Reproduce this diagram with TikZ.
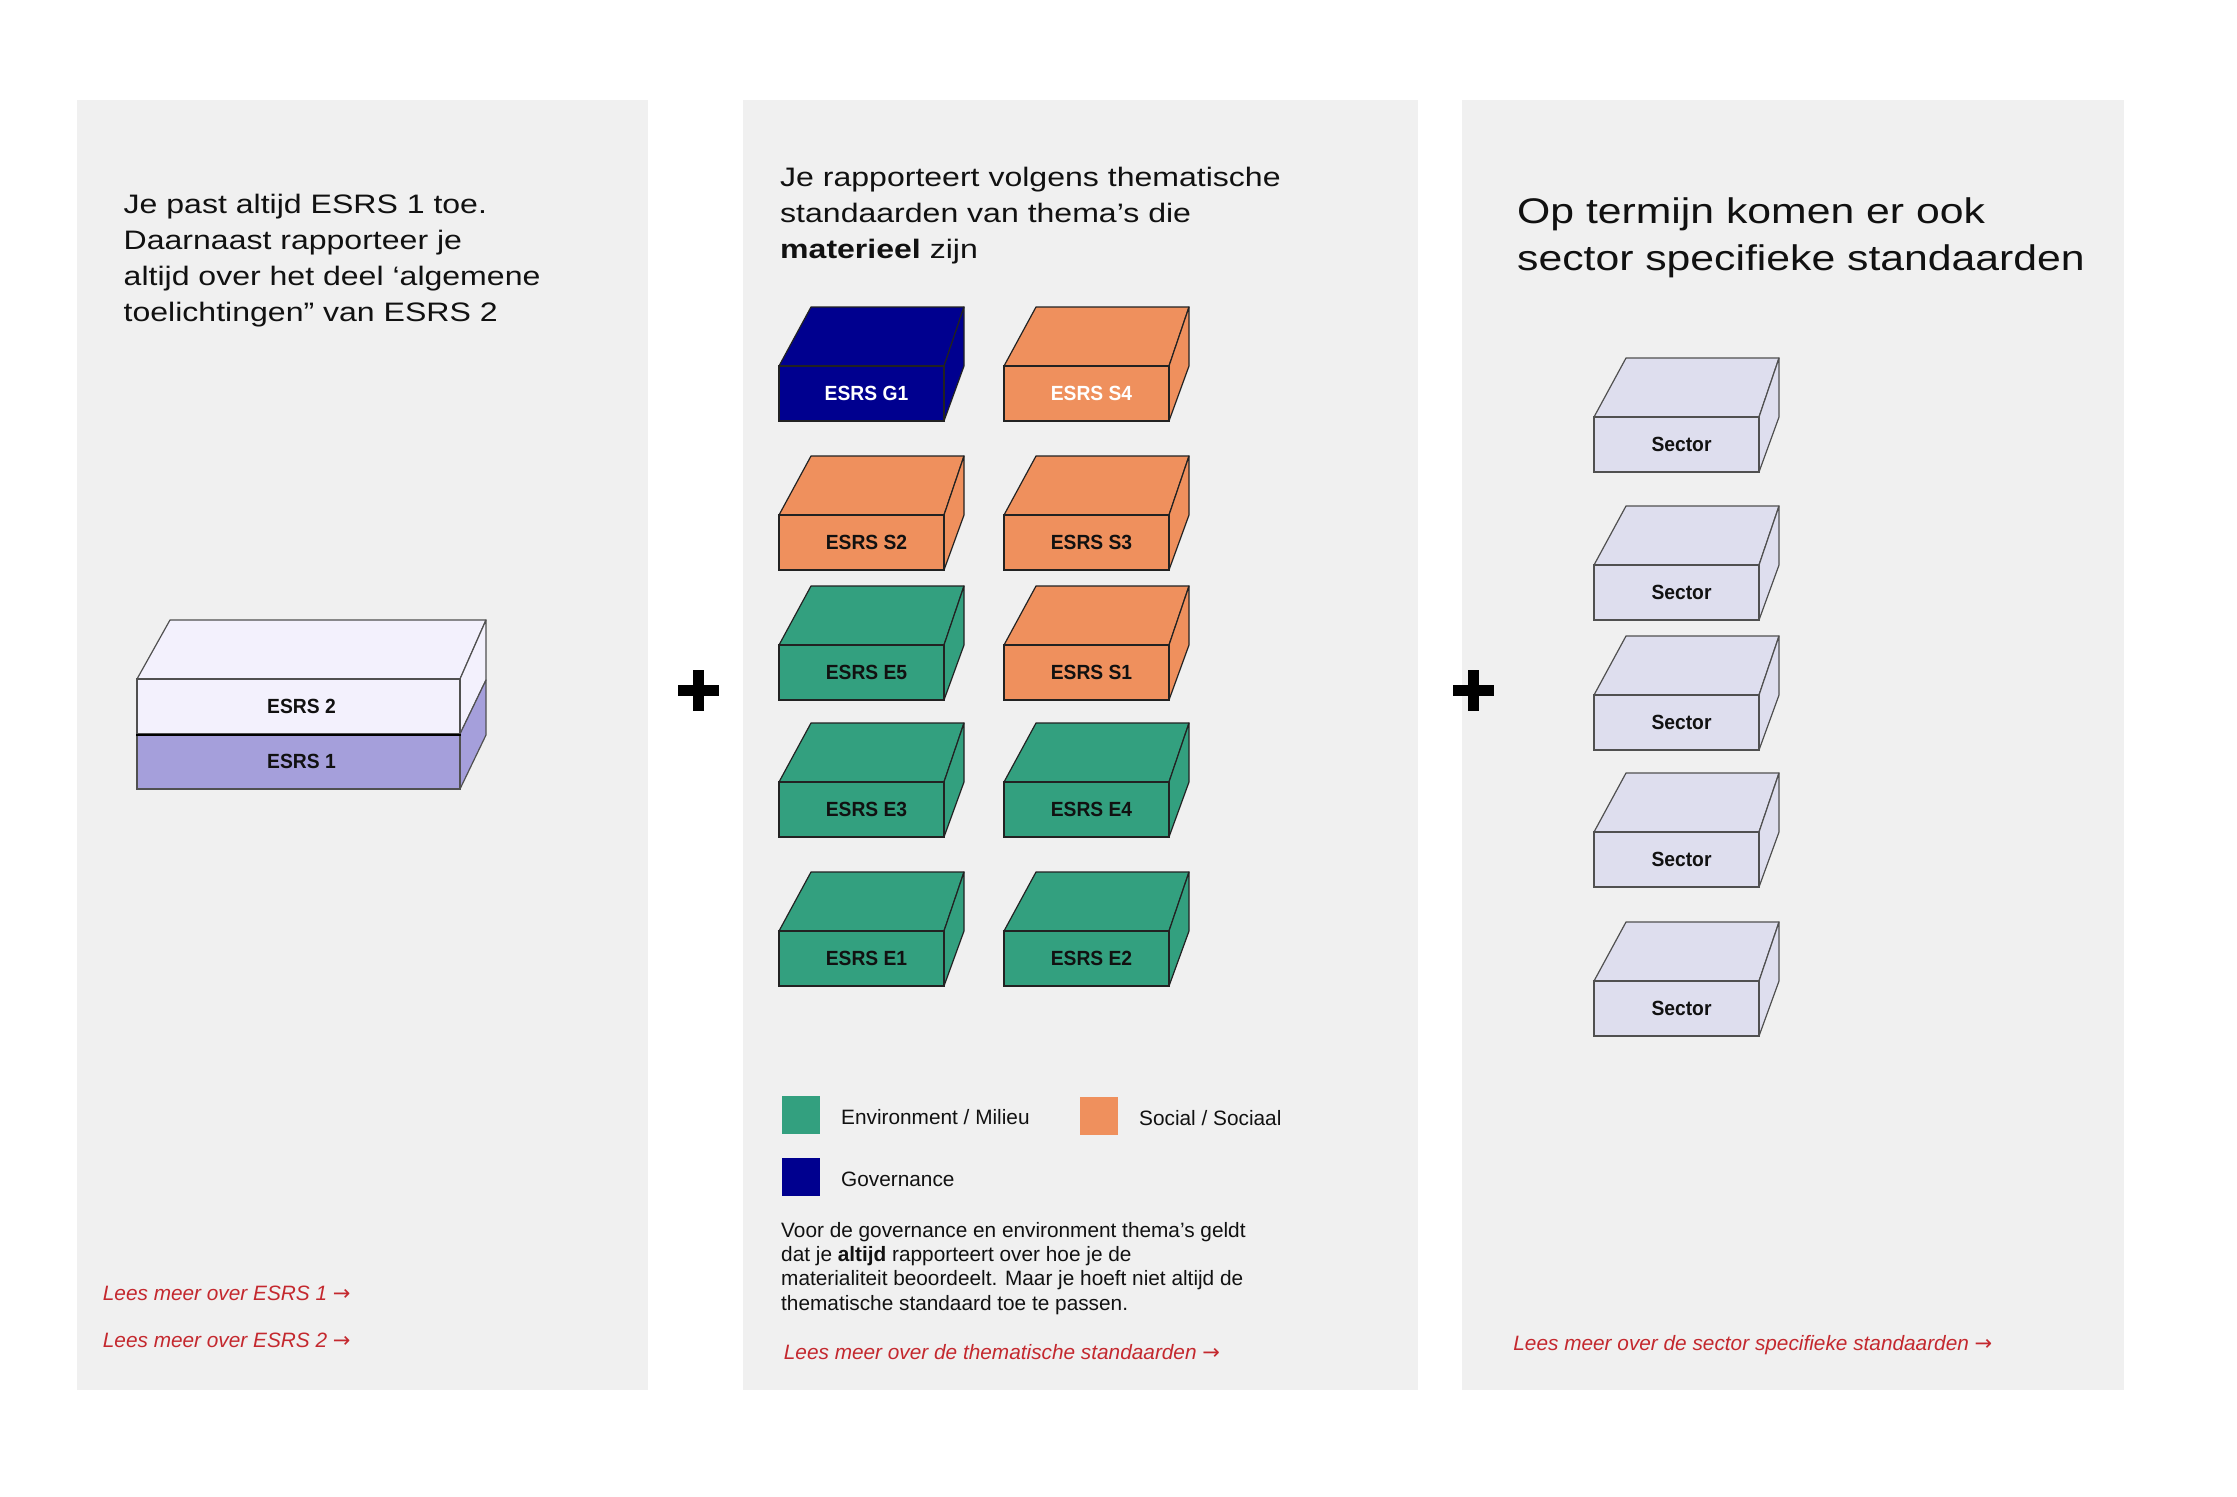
\documentclass[tikz,border=0pt]{standalone}
\usepackage{fontspec}
\setmainfont{Liberation Sans}
\newfontfamily\headfont[FakeStretch=1.2]{Liberation Sans}
\newfontfamily\labelfont[FakeStretch=0.94]{Liberation Sans}
\newfontfamily\arrowfont{DejaVu Sans}
\newcommand\linkarrow{{\arrowfont\upshape\fontsize{21}{24}\selectfont →}}
\definecolor{panelbg}{HTML}{F0F0F0}
\definecolor{ink}{HTML}{111111}
\definecolor{esgreen}{HTML}{33A07F}
\definecolor{esorange}{HTML}{EF905D}
\definecolor{esnavy}{HTML}{00008F}
\definecolor{essector}{HTML}{DEDEEE}
\definecolor{estwo}{HTML}{F3F1FD}
\definecolor{esone}{HTML}{A59FDB}
\definecolor{linkred}{HTML}{C4282E}
\definecolor{edgedark}{HTML}{222222}
\definecolor{edgegray}{HTML}{505050}
\newcommand\isobox[7]{% x y fill name label textcolor edgecolor
  \filldraw[boxedge, draw=#7, fill=#3] (#1,#2) -- ++(32,-59) -- ++(153,0) -- ++(-20,59) -- cycle;
  \filldraw[boxedge, draw=#7, fill=#3] (#1+165,#2) -- ++(20,-59) -- ++(0,59) -- ++(-20,55) -- cycle;
  \node[frontface, draw=#7, fill=#3, text=#6] (#4) at (#1+82.5,#2+27.5) {\hspace*{10pt}#5};
}
\begin{document}
\begin{tikzpicture}[x=1pt,y=-1pt,
  boxedge/.style={line width=1.2pt, line join=round},
  frontface/.style={line width=1.2pt, minimum width=165pt, minimum height=55pt, inner sep=0pt,
    font=\labelfont\bfseries\fontsize{20.5}{24}\selectfont},
  head/.style={font=\headfont\fontsize{26.7}{32}\selectfont, text=ink, inner sep=0pt, anchor=base west},
  bighead/.style={font=\headfont\fontsize{35.6}{42}\selectfont, text=ink, inner sep=0pt, anchor=base west},
  body/.style={font=\fontsize{20.8}{24}\selectfont, text=ink, inner sep=0pt, anchor=base west},
  linktext/.style={font=\itshape\fontsize{20.8}{24}\selectfont, text=linkred, inner sep=0pt, anchor=base west},
  legsq/.style={minimum width=38pt, minimum height=37.7pt, inner sep=0pt, draw=none},
  panel/.style={fill=panelbg}
]
\useasboundingbox (0,0) rectangle (2237,1496);
\fill[white] (0,0) rectangle (2237,1496);
% panels
\fill[panel] (76.5,100) rectangle (648,1390);
\fill[panel] (743,100) rectangle (1418,1390);
\fill[panel] (1462,100) rectangle (2124,1390);

% ---------- panel 1 ----------
\node[head] (p1a) at (123.5,213) {Je past altijd ESRS 1 toe.};
\node[head] (p1b) at (123.5,249) {Daarnaast rapporteer je};
\node[head] (p1c) at (123.5,285) {altijd over het deel ‘algemene};
\node[head] (p1d) at (123.5,321) {toelichtingen” van ESRS 2};

\filldraw[boxedge, draw=edgegray, fill=estwo] (137,679) -- (170,620) -- (486,620) -- (460,679) -- cycle;
\filldraw[boxedge, draw=edgegray, fill=estwo] (460,679) -- (486,620) -- (486,680) -- (460,734) -- cycle;
\filldraw[boxedge, draw=edgegray, fill=esone] (460,734) -- (486,680) -- (486,735) -- (460,789) -- cycle;
\node[frontface, draw=edgegray, fill=estwo, text=ink, minimum width=323pt, minimum height=55pt] (esrs2) at (298.5,706.5) {\hspace*{6pt}ESRS 2};
\node[frontface, draw=edgegray, fill=esone, text=ink, minimum width=323pt, minimum height=55pt] (esrs1) at (298.5,761.5) {\hspace*{6pt}ESRS 1};
\draw[line width=1.8pt, black] (esrs2.south west) -- (esrs2.south east);

\node[linktext] (l1a) at (102.7,1300) {Lees meer over ESRS 1 \linkarrow};
\node[linktext] (l1b) at (102.7,1347.7) {Lees meer over ESRS 2 \linkarrow};

% plus signs
\fill[black] (678,685) rectangle (719,695.5);
\fill[black] (693,670) rectangle (703.5,710.5);
\fill[black] (1453,685) rectangle (1494,695.5);
\fill[black] (1468,670) rectangle (1478.5,710.5);

% ---------- panel 2 ----------
\node[head] (p2a) at (780,186.7) {Je rapporteert volgens thematische};
\node[head] (p2b) at (780,222.7) {standaarden van thema’s die};
\node[head] (p2c) at (780,258.7) {\textbf{materieel} zijn};

\isobox{779}{366}{esnavy}{g1}{ESRS G1}{white}{edgedark}
\isobox{1004}{366}{esorange}{s4}{ESRS S4}{white}{edgedark}
\isobox{779}{515}{esorange}{s2}{ESRS S2}{ink}{edgedark}
\isobox{1004}{515}{esorange}{s3}{ESRS S3}{ink}{edgedark}
\isobox{779}{645}{esgreen}{e5}{ESRS E5}{ink}{edgedark}
\isobox{1004}{645}{esorange}{s1}{ESRS S1}{ink}{edgedark}
\isobox{779}{782}{esgreen}{e3}{ESRS E3}{ink}{edgedark}
\isobox{1004}{782}{esgreen}{e4}{ESRS E4}{ink}{edgedark}
\isobox{779}{931}{esgreen}{e1}{ESRS E1}{ink}{edgedark}
\isobox{1004}{931}{esgreen}{e2}{ESRS E2}{ink}{edgedark}

\node[legsq, fill=esgreen] (sqe) at (801,1115) {};
\node[legsq, fill=esorange] (sqs) at (1099,1116) {};
\node[legsq, fill=esnavy] (sqg) at (801,1177) {};
\node[body] (lge) at (841,1124) {Environment / Milieu};
\node[body] (lgs) at (1139,1125) {Social / Sociaal};
\node[body] (lgg) at (841,1186) {Governance};

\node[body] (b1) at (781,1237.3) {Voor de governance en environment thema’s geldt};
\node[body] (b2) at (781,1261.6) {dat je \textbf{altijd} rapporteert over hoe je de};
\node[body] (b3) at (781,1285.8) {materialiteit beoordeelt. Maar je hoeft niet altijd de};
\node[body] (b4) at (781,1310) {thematische standaard toe te passen.};

\node[linktext] (l2) at (783.7,1359.3) {Lees meer over de thematische standaarden \linkarrow};

% ---------- panel 3 ----------
\node[bighead] (p3a) at (1517,223.3) {Op termijn komen er ook};
\node[bighead] (p3b) at (1517,270) {sector specifieke standaarden};

\isobox{1594}{417}{essector}{sec1}{Sector}{ink}{edgegray}
\isobox{1594}{565}{essector}{sec2}{Sector}{ink}{edgegray}
\isobox{1594}{695}{essector}{sec3}{Sector}{ink}{edgegray}
\isobox{1594}{832}{essector}{sec4}{Sector}{ink}{edgegray}
\isobox{1594}{981}{essector}{sec5}{Sector}{ink}{edgegray}

\node[linktext] (l3) at (1513.2,1350) {Lees meer over de sector specifieke standaarden \linkarrow};
\end{tikzpicture}
\end{document}
